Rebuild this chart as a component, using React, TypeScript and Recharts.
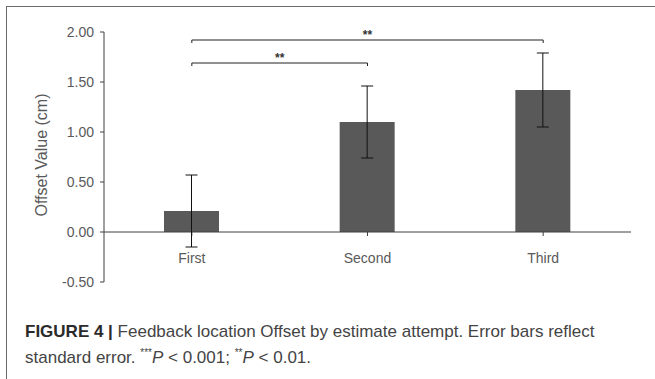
import { Bar, BarChart, ErrorBar, ReferenceLine, XAxis, YAxis } from "recharts"

const categories = ["First", "Second", "Third"]
const offsets = [0.21, 1.1, 1.42]
const errors = [0.36, 0.36, 0.37]
const yTicks = [-0.5, 0, 0.5, 1, 1.5, 2]

// significance brackets: from / to category, height in cm
const bracketFrom = ["First", "First"]
const bracketTo = ["Third", "Second"]
const bracketY = [1.92, 1.69]
const bracketLabel = ["**", "**"]

const data = categories.map((name, i) => ({ name, value: offsets[i], err: errors[i] }))

const FONT = "'Liberation Sans', Arial, sans-serif"
const AXIS = "#404040"
const TEXT = "#595959"

const CatTick = (props: any) => {
  const { x, y, payload } = props
  return (
    <text x={x} y={y - 19} textAnchor="middle" fontSize={14} fill={TEXT} fontFamily={FONT}>
      {payload.value}
    </text>
  )
}

const YLabel = (props: any) => {
  const vb = props.viewBox
  const cx = vb.x + 41
  const cy = vb.y + vb.height / 2 - 2
  return (
    <text
      x={cx}
      y={cy}
      transform={`rotate(-90, ${cx}, ${cy})`}
      textAnchor="middle"
      dominantBaseline="central"
      fontSize={16}
      fill={TEXT}
      fontFamily={FONT}
    >
      Offset Value (cm)
    </text>
  )
}

const sup = { fontSize: 10, lineHeight: 0 }

export default function App() {
  return (
    <div style={{ position: "absolute", left: 0, top: 0, width: 655, height: 379, background: "#fff", overflow: "hidden" }}>
      <div
        style={{
          position: "absolute",
          left: 6,
          top: 6,
          width: 660,
          height: 380,
          borderTop: "1.5px solid #6a6a6a",
          borderLeft: "1.5px solid #6a6a6a",
        }}
      />
      <div style={{ position: "absolute", left: 0, top: 0 }}>
        <BarChart width={655} height={379} data={data} margin={{ top: 32, right: 24, bottom: 67, left: 0 }}>
          <XAxis
            dataKey="name"
            axisLine={false}
            tickLine={false}
            tickSize={0}
            tickMargin={0}
            height={30}
            tick={<CatTick />}
          />
          <YAxis
            width={104}
            domain={[-0.5, 2]}
            ticks={yTicks}
            interval={0}
            tickFormatter={(v: number) => v.toFixed(2)}
            axisLine={{ stroke: AXIS }}
            tickLine={{ stroke: AXIS }}
            tickSize={4}
            tickMargin={6}
            tick={{ fontSize: 14, fill: TEXT, fontFamily: FONT }}
            label={YLabel}
          />
          <ReferenceLine y={0} stroke={AXIS} strokeWidth={1} />
          {categories.map((c) => (
            <ReferenceLine
              key={"t" + c}
              segment={[
                { x: c, y: 0 },
                { x: c, y: -0.04 },
              ]}
              stroke={AXIS}
            />
          ))}
          <Bar dataKey="value" fill="#595959" barSize={55} isAnimationActive={false}>
            <ErrorBar dataKey="err" width={6} stroke="#111" strokeWidth={1} direction="y" />
          </Bar>
          {bracketY.map((by, i) => (
            <ReferenceLine
              key={"b" + i}
              segment={[
                { x: bracketFrom[i], y: by },
                { x: bracketTo[i], y: by },
              ]}
              stroke="#222"
              strokeWidth={1.2}
              label={{ value: bracketLabel[i], position: "top", offset: 1, fontSize: 12, fontWeight: "bold", fill: "#333", fontFamily: FONT }}
            />
          ))}
          {bracketY.map((by, i) => (
            <ReferenceLine
              key={"l" + i}
              segment={[
                { x: bracketFrom[i], y: by },
                { x: bracketFrom[i], y: by - 0.03 },
              ]}
              stroke="#222"
            />
          ))}
          {bracketY.map((by, i) => (
            <ReferenceLine
              key={"r" + i}
              segment={[
                { x: bracketTo[i], y: by },
                { x: bracketTo[i], y: by - 0.03 },
              ]}
              stroke="#222"
            />
          ))}
        </BarChart>
      </div>
      <div
        style={{
          position: "absolute",
          left: 25,
          top: 319,
          width: 625,
          fontFamily: FONT,
          fontSize: 17,
          lineHeight: "26px",
          color: "#444",
        }}
      >
        <div>
          <b style={{ color: "#2a2a2a" }}>FIGURE 4 |</b> Feedback location Offset by estimate attempt. Error bars reflect
        </div>
        <div>
          standard error. <sup style={sup}>***</sup>
          <i>P</i> &lt; 0.001; <sup style={sup}>**</sup>
          <i>P</i> &lt; 0.01.
        </div>
      </div>
    </div>
  )
}
